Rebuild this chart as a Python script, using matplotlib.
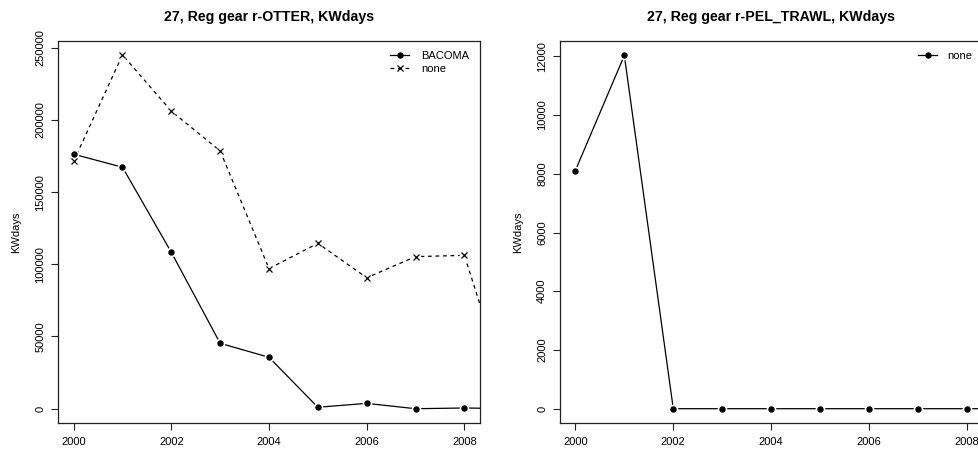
import numpy as np
import matplotlib.pyplot as plt

# KWdays per year, area 27
years = [2000, 2001, 2002, 2003, 2004, 2005, 2006, 2007, 2008, 2009]
otter_bacoma = [176200, 167200, 108300, 45300, 35600, 1000, 3700, 0, 500, 0]
otter_none = [171300, 245000, 206000, 178500, 97000, 114500, 90700, 105300, 106200, 0]
pel_none = [8110, 12030, 0, 0, 0, 0, 0, 0, 0, 0]

plt.rcParams['font.family'] = ['Liberation Sans', 'DejaVu Sans']
plt.rcParams['font.size'] = 8


def r_line(ax, x, y, marker, ls, label, ms, mew=1.0):
    # R type="b": lines broken around the points
    line, = ax.plot(x, y, color='black', lw=0.9, ls=ls, marker=marker, ms=ms,
                    mew=mew, mfc='black', mec='black', label=label, zorder=3)
    if ls == '--':
        line.set_dashes((3, 3))
    ax.plot(x, y, ls='none', marker='o', ms=7, mfc='white', mec='none', zorder=4)
    ax.plot(x, y, ls='none', marker=marker, ms=ms, mew=mew, mfc='black',
            mec='black', zorder=5)
    return line


def style(ax, title, ylim, yticks):
    ax.set_xlim(1999.68, 2008.32)
    ax.set_ylim(*ylim)
    ax.set_xticks(np.arange(2000, 2009, 2))
    ax.set_yticks(yticks)
    ax.set_yticklabels([str(v) for v in yticks], rotation=90, va='center')
    ax.tick_params(direction='out', length=5, width=0.8, color='#222222')
    ax.tick_params(axis='x', pad=5)
    ax.tick_params(axis='y', pad=4)
    for s in ax.spines.values():
        s.set_linewidth(0.9)
        s.set_color('#222222')
    ax.set_ylabel('KWdays', labelpad=10)
    ax.set_title(title, fontsize=10.2, fontweight='bold', pad=14)


fig = plt.figure(figsize=(9.79, 4.54), dpi=100)
ax1 = fig.add_axes([58 / 979, 30.7 / 454, 422 / 979, 382.6 / 454])
ax2 = fig.add_axes([559.7 / 979, 30.7 / 454, 423 / 979, 382.6 / 454])

l1 = r_line(ax1, years, otter_bacoma, 'o', '-', 'BACOMA', 3.6)
l2 = r_line(ax1, years, otter_none, 'x', '--', 'none', 4.5, 0.9)
style(ax1, '27, Reg gear r-OTTER, KWdays', (-10100, 254800),
      [0, 50000, 100000, 150000, 200000, 250000])
ax1.legend(handles=[l1, l2], loc='upper right', frameon=False, fontsize=8,
           handlelength=1.7, handletextpad=1.1, labelspacing=0.25,
           borderaxespad=0.55, numpoints=1)

l3 = r_line(ax2, years, pel_none, 'o', '-', 'none', 3.6)
style(ax2, '27, Reg gear r-PEL_TRAWL, KWdays', (-497, 12532),
      [0, 2000, 4000, 6000, 8000, 10000, 12000])
ax2.legend(handles=[l3], loc='upper right', frameon=False, fontsize=8,
           handlelength=1.7, handletextpad=0.9, borderaxespad=0.55, numpoints=1)

fig.savefig('out.png', dpi=100)
